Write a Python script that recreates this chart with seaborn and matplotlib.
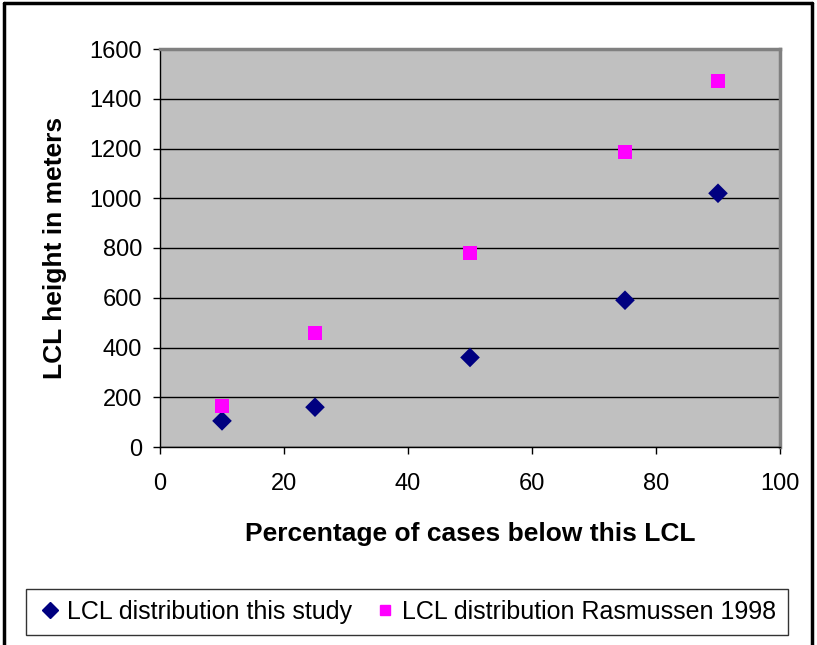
import matplotlib
matplotlib.use("Agg")
import matplotlib.pyplot as plt
import seaborn as sns
import pandas as pd
from matplotlib.lines import Line2D

percent = [10, 25, 50, 75, 90]
this_study = [105, 160, 360, 590, 1020]
rasmussen = [165, 460, 780, 1185, 1470]
series_names = ["LCL distribution this study", "LCL distribution Rasmussen 1998"]
x_ticks = [0, 20, 40, 60, 80, 100]
y_ticks = [0, 200, 400, 600, 800, 1000, 1200, 1400, 1600]

df = pd.DataFrame({
    "x": percent * 2,
    "y": this_study + rasmussen,
    "series": [series_names[0]] * len(percent) + [series_names[1]] * len(percent),
})

sns.set_theme(style="white")
plt.rcParams["font.family"] = ["Liberation Sans", "DejaVu Sans"]
plt.rcParams["text.color"] = "black"
plt.rcParams["axes.labelcolor"] = "black"

fig = plt.figure(figsize=(8.17, 6.45), dpi=100)
ax = fig.add_axes([160 / 817, 1 - 447 / 645, 620 / 817, 398 / 645])
ax.set_facecolor("#C0C0C0")

sns.scatterplot(
    data=df, x="x", y="y", hue="series", style="series", size="series",
    palette={series_names[0]: "#000080", series_names[1]: "#FF00FF"},
    markers={series_names[0]: "D", series_names[1]: "s"},
    sizes={series_names[0]: 100, series_names[1]: 100},
    linewidth=0, ax=ax, legend=False, zorder=3,
)

ax.set_xlim(0, 100)
ax.set_ylim(0, 1600)
ax.set_xticks(x_ticks)
ax.set_yticks(y_ticks)
ax.yaxis.grid(True, color="black", linewidth=1)
ax.set_axisbelow(True)
ax.tick_params(axis="both", direction="out", length=5, width=1, color="black",
               labelsize=17, labelcolor="black", left=True, bottom=True)
ax.tick_params(axis="y", pad=8)
ax.tick_params(axis="x", pad=14)
for side in ["top", "right"]:
    ax.spines[side].set_color("#808080")
    ax.spines[side].set_linewidth(2.5)
for side in ["left", "bottom"]:
    ax.spines[side].set_color("black")
    ax.spines[side].set_linewidth(1)

ax.set_xlabel("Percentage of cases below this LCL", fontsize=19, fontweight="bold",
              labelpad=19, color="black")
ax.set_ylabel("LCL height in meters", fontsize=19, fontweight="bold",
              labelpad=16, color="black")

handles = [
    Line2D([], [], marker="D", color="#000080", linestyle="", markersize=8),
    Line2D([], [], marker="s", color="#FF00FF", linestyle="", markersize=7.5),
]
leg = fig.legend(handles, series_names, loc="center",
                 bbox_to_anchor=((26 + 788) / 2 / 817, 1 - 612 / 645),
                 ncol=2, fontsize=18, frameon=True, fancybox=False,
                 handletextpad=0.2, columnspacing=0.8, handlelength=1.0,
                 borderpad=0.45, borderaxespad=0)
leg.get_frame().set_edgecolor("black")
leg.get_frame().set_linewidth(1)

# outer chart border
fig.add_artist(Line2D([4 / 817, 4 / 817], [0, 1 - 3 / 645], transform=fig.transFigure, color="black", linewidth=2.5))
fig.add_artist(Line2D([4 / 817, 812 / 817], [1 - 3 / 645, 1 - 3 / 645], transform=fig.transFigure, color="black", linewidth=2.5))
fig.add_artist(Line2D([812 / 817, 812 / 817], [0, 1 - 3 / 645], transform=fig.transFigure, color="black", linewidth=2.5))

fig.savefig("out.png", dpi=100)
